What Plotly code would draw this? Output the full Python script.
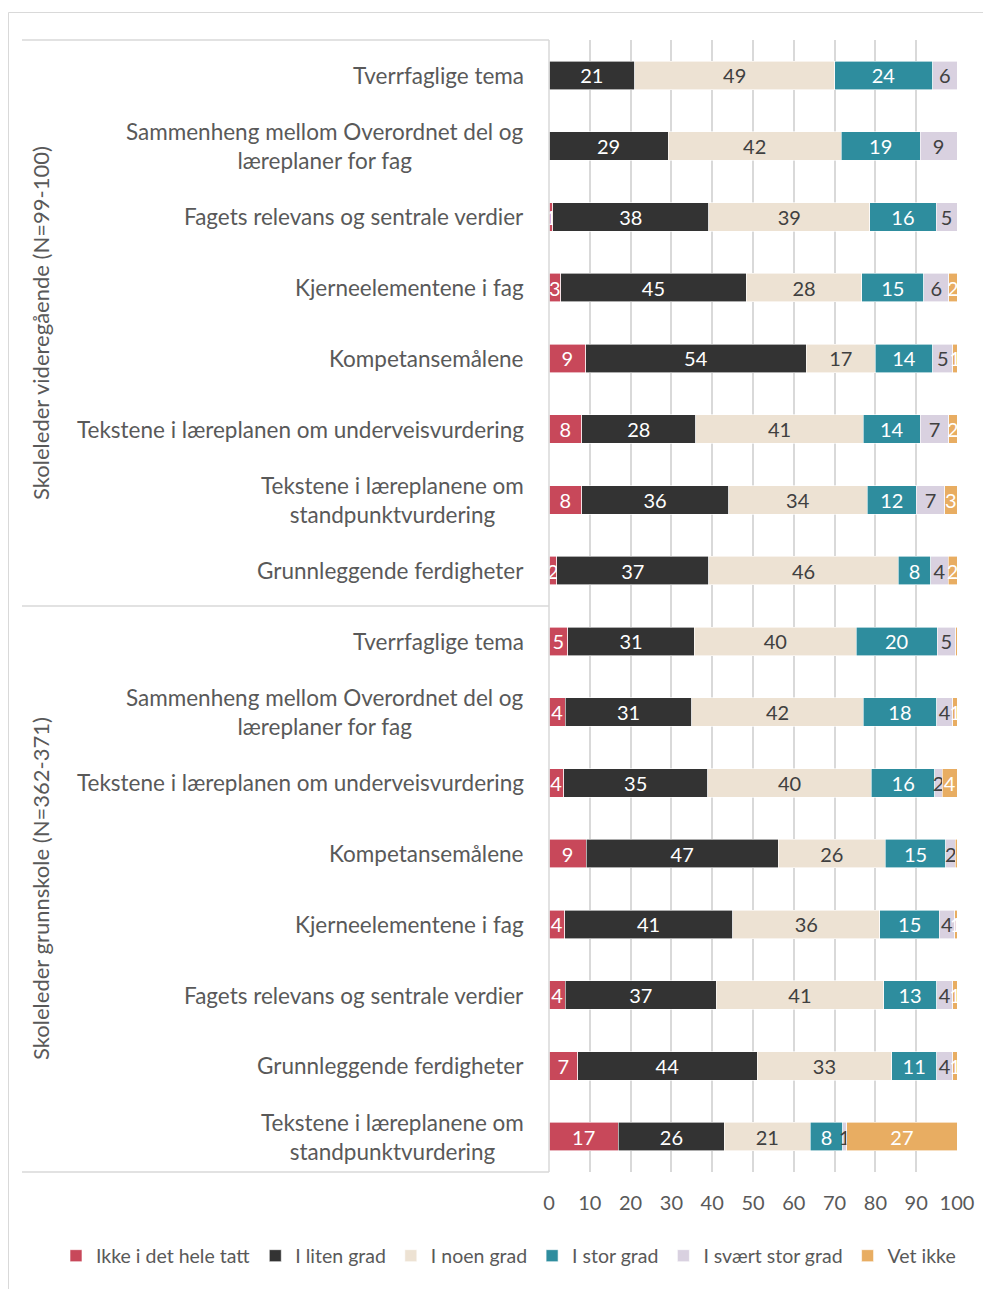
import plotly.graph_objects as go

categories = [
    "Tverrfaglige tema",
    "Sammenheng mellom Overordnet del og<br>læreplaner for fag",
    "Fagets relevans og sentrale verdier",
    "Kjerneelementene i fag",
    "Kompetansemålene",
    "Tekstene i læreplanen om underveisvurdering",
    "Tekstene i læreplanene om<br>standpunktvurdering",
    "Grunnleggende ferdigheter",
    "Tverrfaglige tema",
    "Sammenheng mellom Overordnet del og<br>læreplaner for fag",
    "Tekstene i læreplanen om underveisvurdering",
    "Kompetansemålene",
    "Kjerneelementene i fag",
    "Fagets relevans og sentrale verdier",
    "Grunnleggende ferdigheter",
    "Tekstene i læreplanene om<br>standpunktvurdering",
]
groups = ["Skoleleder videregående (N=99-100)", "Skoleleder grunnskole (N=362-371)"]
group_sizes = [8, 8]

series_names = ["Ikke i det hele tatt", "I liten grad", "I noen grad", "I stor grad",
                "I svært stor grad", "Vet ikke"]

# Percentages (estimated to one decimal where the rounded labels do not add up to 100)
ikke = [0, 0, 0.9, 2.9, 9, 8, 8, 1.9, 4.6, 4, 3.6, 9.1, 3.8, 4, 7, 17]
liten = [21, 29.2, 38.3, 45.4, 54, 28, 36, 37.3, 31, 31, 35.3, 47.1, 41.2, 37, 44, 26]
noen = [49, 42.4, 39.4, 28.4, 17, 41, 34, 46.4, 39.7, 42, 40.1, 26.2, 36.1, 41, 33, 21]
stor = [24, 19.4, 16.3, 15.1, 14, 14, 12, 8.0, 19.8, 18, 15.6, 14.9, 14.6, 13, 11, 8]
svaert = [6, 9.0, 5.1, 6.2, 5, 7, 7, 4.2, 4.6, 4, 1.8, 2.3, 3.7, 4, 4, 1]
vet = [0, 0, 0, 2.0, 1, 2, 3, 2.2, 0.3, 1, 3.6, 0.4, 0.6, 1, 1, 27]

series_values = [ikke, liten, noen, stor, svaert, vet]
colors = ["#C8485A", "#333333", "#EDE2D3", "#2E8D9E", "#D9D1E0", "#E8AD62"]
text_colors = ["white", "white", "#404040", "white", "#404040", "white"]

xticks = [0, 10, 20, 30, 40, 50, 60, 70, 80, 90, 100]

FONT = "Lato"
ypos = list(range(len(categories)))

fig = go.Figure()
for name, vals, col, tcol in zip(series_names, series_values, colors, text_colors):
    fig.add_trace(go.Bar(
        name=name,
        y=ypos,
        x=vals,
        orientation="h",
        width=0.4,
        marker=dict(color=col, line=dict(color="white", width=0.6)),
        text=[f"{v:.0f}" if round(v) > 0 else "" for v in vals],
        textposition="inside",
        insidetextanchor="middle",
        textangle=0,
        constraintext="none",
        textfont=dict(family=FONT, size=20, color=tcol),
        cliponaxis=False,
        hoverinfo="skip",
    ))

# page offset: the page body adds 8 px around the figure
OFF = 8
W, H = 991 - OFF, 1289 - OFF
# plot area in page pixels: x 549..957, y 40..1172
PX0, PX1, PY0, PY1 = 549, 957, 40, 1172
L = PX0 - OFF
R = W - (PX1 - OFF)
T = PY0 - OFF
B = H - (PY1 - OFF)


def px_x(px):
    return (px - PX0) / (PX1 - PX0)


def px_y(py):
    return (PY1 - py) / (PY1 - PY0)


annotations = []
for i, cat in enumerate(categories):
    annotations.append(dict(
        x=0, xref="paper", y=i, yref="y", xshift=-23,
        text=cat, showarrow=False, xanchor="right", yanchor="middle",
        align="center", font=dict(family=FONT, size=22.5, color="#595959"),
    ))

start = 0
for g, n in zip(groups, group_sizes):
    mid = start + (n - 1) / 2
    annotations.append(dict(
        x=px_x(40), xref="paper", y=mid, yref="y",
        text=g, showarrow=False, textangle=-90,
        xanchor="center", yanchor="middle",
        font=dict(family=FONT, size=22, color="#595959"),
    ))
    start += n

line_col = "#D9D9D9"
shapes = [
    dict(type="rect", xref="paper", yref="paper", x0=px_x(8.5), x1=px_x(1000),
         y0=px_y(1300), y1=px_y(12.5), line=dict(color=line_col, width=1), layer="below"),
    dict(type="line", xref="paper", yref="paper", x0=px_x(22), x1=0, y0=1, y1=1,
         line=dict(color=line_col, width=1.5)),
    dict(type="line", xref="paper", yref="paper", x0=px_x(22), x1=0, y0=0.5, y1=0.5,
         line=dict(color=line_col, width=1.5)),
    dict(type="line", xref="paper", yref="paper", x0=px_x(22), x1=0, y0=0, y1=0,
         line=dict(color=line_col, width=1.5)),
    dict(type="line", xref="paper", yref="paper", x0=0, x1=0, y0=0, y1=1,
         line=dict(color=line_col, width=1.5)),
]

fig.update_layout(
    width=W, height=H,
    margin=dict(l=L, r=R, t=T, b=B, autoexpand=False),
    paper_bgcolor="white", plot_bgcolor="white",
    barmode="stack",
    uniformtext=dict(minsize=20, mode="show"),
    font=dict(family=FONT, size=20, color="#595959"),
    xaxis=dict(range=[0, 100], tickvals=xticks, ticktext=[str(t) for t in xticks],
               showgrid=True, gridcolor="#D9D9D9", gridwidth=1.8, zeroline=False,
               showline=False, ticks="", ticklabelstandoff=17,
               tickfont=dict(family=FONT, size=20, color="#595959"), fixedrange=True),
    yaxis=dict(range=[len(categories) - 0.5, -0.5], showticklabels=False,
               showgrid=False, zeroline=False, showline=False, ticks="", fixedrange=True),
    legend=dict(orientation="h", traceorder="normal", x=px_x(56), xanchor="left",
                y=px_y(1256), yanchor="middle", xref="paper",
                font=dict(family=FONT, size=19.5, color="#595959"),
                itemwidth=30, tracegroupgap=0),
    annotations=annotations,
    shapes=shapes,
    showlegend=True,
)

fig.write_html("out.html")
